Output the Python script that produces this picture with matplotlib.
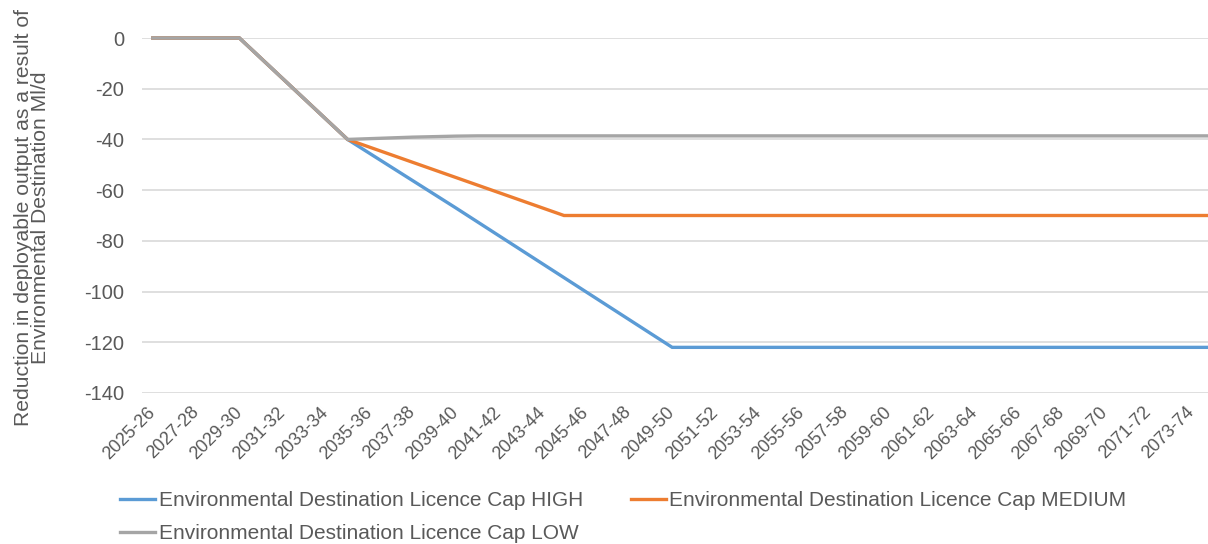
import matplotlib
matplotlib.use("Agg")
import matplotlib.pyplot as plt

plt.rcParams['font.family'] = ['Liberation Sans', 'DejaVu Sans']

years = [f"{y}-{str(y + 1)[-2:]}" for y in range(2025, 2075)]

high = [0, 0, 0, 0, 0, -8, -16, -24, -32, -40,
        -45.4, -50.8, -56.2, -61.6, -67, -72.5, -78, -83.5, -89, -94.5,
        -100, -105.5, -111, -116.5, -122] + [-122] * 25
medium = [0, 0, 0, 0, 0, -8, -16, -24, -32, -40,
          -43, -46, -49, -52, -55, -58, -61, -64, -67, -70] + [-70] * 30
low = [0, 0, 0, 0, 0, -8, -16, -24, -32, -40,
       -39.7, -39.4, -39.1, -38.9, -38.7] + [-38.6] * 35

series_names = ["Environmental Destination Licence Cap HIGH",
                "Environmental Destination Licence Cap MEDIUM",
                "Environmental Destination Licence Cap LOW"]
colors = ["#5B9BD5", "#ED7D31", "#A5A5A5"]
yticks = [0, -20, -40, -60, -80, -100, -120, -140]

W, H = 1208, 544
fig = plt.figure(figsize=(W / 100, H / 100), dpi=100)
left, right, top, bottom = 142, 1224, 38, 393
ax = fig.add_axes([left / W, (H - bottom) / H, (right - left) / W, (bottom - top) / H])

x = list(range(len(years)))
lines = []
for vals, c, name in zip([high, medium, low], colors, series_names):
    ln, = ax.plot(x, vals, color=c, lw=2.4, label=name, clip_on=False,
                  solid_joinstyle='miter', zorder=3)
    lines.append(ln)

ax.set_xlim(-0.5, len(years) - 0.5)
ax.set_ylim(-140, 0)
ax.set_yticks(yticks)
ax.set_yticklabels([str(v) for v in yticks])
ax.yaxis.grid(True, color="#D9D9D9", lw=1.2)
ax.set_axisbelow(True)
for s in ax.spines.values():
    s.set_visible(False)
ax.tick_params(axis='both', length=0, colors="#595959")
ax.tick_params(axis='y', pad=13, labelsize=14.5)

ax.set_xticks(x[::2])
ax.set_xticklabels(years[::2], rotation=45, ha='right', va='center',
                   rotation_mode='anchor', fontsize=13)
ax.tick_params(axis='x', pad=12)

fig.text(32 / W, 1 - 218 / H,
         "Reduction in deployable output as a result of\nEnvironmental Destination Ml/d",
         rotation=90, ha='center', va='center', multialignment='center',
         fontsize=15.2, color="#595959", linespacing=0.92)

handles = [lines[0], lines[2], lines[1]]
labels = [series_names[0], series_names[2], series_names[1]]
leg = fig.legend(handles, labels, ncol=2, loc='upper left',
                 bbox_to_anchor=(120 / W, 1 - 491 / H), frameon=False,
                 fontsize=15, handlelength=1.7, handletextpad=0.15,
                 columnspacing=2.3, labelspacing=0.68, borderpad=0,
                 borderaxespad=0)
for t in leg.get_texts():
    t.set_color("#595959")

fig.savefig("out.png", dpi=100, facecolor="white")
